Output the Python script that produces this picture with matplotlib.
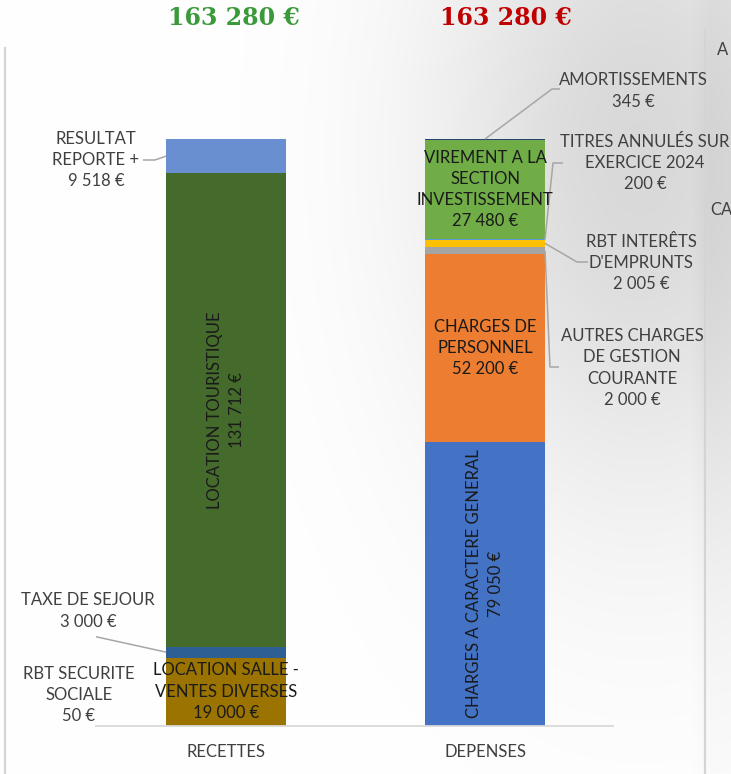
import numpy as np
import matplotlib.pyplot as plt
from matplotlib.lines import Line2D

W, H = 731, 774
plt.rcParams['font.family'] = ['Lato', 'DejaVu Sans']

categories = ['RECETTES', 'DEPENSES']
totals = [163280, 163280]

rec_labels = ['RBT SECURITE\nSOCIALE', 'LOCATION SALLE -\nVENTES DIVERSES', 'TAXE DE SEJOUR',
              'LOCATION TOURISTIQUE', 'RESULTAT\nREPORTE +']
rec_values = [50, 19000, 3000, 131712, 9518]
rec_colors = ['#7f7f7f', '#9a7300', '#2d5f95', '#446a2c', '#6a8fd0']

dep_labels = ['CHARGES A CARACTERE GENERAL', 'CHARGES DE\nPERSONNEL', 'AUTRES CHARGES\nDE GESTION\nCOURANTE',
              "RBT INTERÊTS\nD'EMPRUNTS", 'TITRES ANNULÉS SUR\nEXERCICE 2024',
              'VIREMENT A LA\nSECTION\nINVESTISSEMENT', 'AMORTISSEMENTS']
dep_values = [79050, 52200, 2000, 2005, 200, 27480, 345]
dep_colors = ['#4472c4', '#ed7d31', '#a5a5a5', '#ffc000', '#5b9bd5', '#70ad47', '#264478']

# label layout: mode, label centre (px), leader side, leader points (px)
rec_layout = [
    ('out', (79, 695), None, []),
    ('in', None, None, []),
    ('out', (88, 611), 'left', [(88, 635)]),
    ('rot', None, None, []),
    ('out', (96, 160), 'left', [(143, 160), (155, 160)]),
]
dep_layout = [
    ('rot', None, None, []),
    ('in', None, None, []),
    ('out', (632, 368), 'right', [(559, 367), (550, 367)]),
    ('out', (641, 263), 'right', [(588, 262), (577, 262)]),
    ('out', (645, 163), 'right', [(563, 163), (553, 163)]),
    ('in', None, None, []),
    ('out', (633, 91), 'top', [(560, 89), (552, 89)]),
]


def fmt(v):
    return f"{v:,}".replace(',', ' ') + ' €'


fig = plt.figure(figsize=(W / 100, H / 100), dpi=100)

# soft grey shadow in the background
bg = fig.add_axes([0, 0, 1, 1], zorder=-5)
yy, xx = np.mgrid[0:H, 0:W]
d = np.sqrt(((xx - 640) / 1.0) ** 2 + ((yy - 150) / 1.7) ** 2)
shade = 1 - 0.15 * np.exp(-(d / 210) ** 2)
shade -= 0.04 * np.clip((xx - 690) / 20, 0, 1) * np.exp(-((yy - 300) / 450) ** 2)
bg.imshow(np.dstack([shade] * 3), extent=[0, W, H, 0], aspect='auto')
bg.axis('off')

ax = fig.add_axes([96 / W, (H - 726) / H, 517 / W, 686 / H])
ax.patch.set_alpha(0)
ax.set_xlim(-0.502, 1.494)
ax.set_ylim(0, 163280 * 686 / 587)
width = 0.463


def pt(px, py):
    return ax.transData.inverted().transform((px, H - py))


txt_out = '#404040'
txt_in = '#1a1a1a'
lead = '#a6a6a6'
fs = 12

for i, (vals, labs, cols, lay) in enumerate([(rec_values, rec_labels, rec_colors, rec_layout),
                                              (dep_values, dep_labels, dep_colors, dep_layout)]):
    bottoms = np.concatenate([[0], np.cumsum(vals)[:-1]])
    ax.bar([i] * len(vals), vals, bottom=bottoms, width=width, color=cols)
    for v, b, lab, (mode, pos, side, path) in zip(vals, bottoms, labs, lay):
        mid = b + v / 2
        s = lab + '\n' + fmt(v)
        if mode == 'in':
            ax.text(i, mid, s, ha='center', va='center', fontsize=fs, color=txt_in,
                    linespacing=1.4, multialignment='center')
        elif mode == 'rot':
            ax.text(i, mid, s, ha='center', va='center', fontsize=fs, color=txt_in,
                    rotation=90, linespacing=1.4, multialignment='center')
        else:
            x, y = pt(*pos)
            ax.text(x, y, s, ha='center', va='center', fontsize=fs, color=txt_out,
                    linespacing=1.4, multialignment='center')
            if side is None:
                continue
            if side == 'left':
                anchor = (i - width / 2, mid)
            elif side == 'right':
                anchor = (i + width / 2, mid)
            else:
                anchor = (i, b + v)
            pts = [pt(*p) for p in path] + [anchor]
            ax.plot([p[0] for p in pts], [p[1] for p in pts], color=lead, lw=1.1,
                    solid_capstyle='butt')

for sp in ['top', 'left', 'right']:
    ax.spines[sp].set_visible(False)
ax.spines['bottom'].set_color('#d9d9d9')
ax.spines['bottom'].set_linewidth(1.3)
ax.set_yticks([])
ax.set_xticks(range(len(categories)))
ax.set_xticklabels(categories, fontsize=fs, color=txt_out)
ax.tick_params(axis='x', length=0, pad=13)

# totals above each bar
tcol = ['#3a9a3a', '#c00000']
tx = [234, 506]
for i, t in enumerate(totals):
    fig.text(tx[i] / W, 1 - 18 / H, fmt(t), ha='center', va='center', fontsize=17,
             fontweight='bold', family='DejaVu Serif', color=tcol[i])

# frame lines of neighbouring elements
fig.add_artist(Line2D([5 / W, 5 / W], [0, 1 - 48 / H], transform=fig.transFigure,
                      color='#d4d4d4', lw=1.6, zorder=-1))
fig.add_artist(Line2D([705 / W, 705 / W], [0, 1 - 30 / H], transform=fig.transFigure,
                      color='#d4d4d4', lw=1.6, zorder=-1))
fig.text(717 / W, 1 - 50 / H, 'A', fontsize=fs, color=txt_out, va='center')
fig.text(710 / W, 1 - 210 / H, 'CA', fontsize=fs, color=txt_out, va='center')

fig.savefig('out.png', dpi=100)
